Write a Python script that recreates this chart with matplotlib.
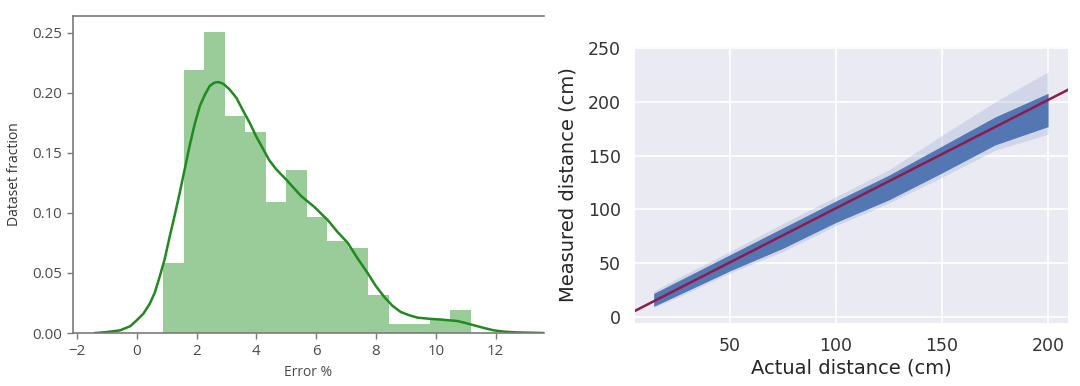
import matplotlib
matplotlib.use("Agg")
import matplotlib.pyplot as plt
import numpy as np

# Left panel: histogram of error (density) with a KDE curve.
bin_edges = [0.88, 1.57, 2.25, 2.94, 3.63, 4.31, 5.00, 5.69, 6.37, 7.06,
             7.75, 8.43, 9.12, 9.81, 10.49, 11.18]
bin_density = [0.058, 0.219, 0.251, 0.181, 0.167, 0.109, 0.136, 0.097, 0.077,
               0.071, 0.032, 0.0073, 0.0073, 0.0106, 0.019]

kde_x = [-1.39, -1.0, -0.56, -0.22, 0.0, 0.22, 0.44, 0.61, 0.77, 0.94, 1.1,
         1.27, 1.44, 1.61, 1.77, 1.94, 2.11, 2.28, 2.44, 2.6, 2.74, 2.9, 3.1,
         3.33, 3.54, 3.78, 3.99, 4.21, 4.43, 4.66, 4.99, 5.5, 5.94, 6.39,
         6.72, 7.06, 7.39, 7.72, 8.0, 8.28, 8.56, 8.83, 9.11, 9.39, 9.8,
         10.17, 10.72, 11.0, 11.28, 11.61, 11.94, 12.3, 12.72, 13.6]
kde_y = [0.0, 0.0008, 0.0022, 0.0056, 0.0106, 0.016, 0.0245, 0.034, 0.047,
         0.062, 0.080, 0.098, 0.117, 0.137, 0.156, 0.174, 0.189, 0.1985,
         0.2057, 0.2085, 0.209, 0.2075, 0.203, 0.196, 0.186, 0.175, 0.164,
         0.154, 0.144, 0.1365, 0.128, 0.114, 0.105, 0.094, 0.084, 0.075,
         0.062, 0.050, 0.039, 0.030, 0.0225, 0.0175, 0.0148, 0.0128, 0.0118,
         0.0112, 0.010, 0.0083, 0.0064, 0.0042, 0.0022, 0.0011, 0.0005, 0.0]

# Right panel: measured vs actual distance, the point cloud as envelopes.
band_x = [14, 25, 50, 75, 100, 125, 150, 175, 200]
core_low = [10, 20, 43, 64, 88, 109, 134, 160, 177]
core_high = [22, 33, 58, 83, 108, 132, 159, 186, 208]
halo_low = [9, 18, 41, 61, 85, 106, 130, 155, 170]
halo_high = [24, 36, 61, 87, 112, 137, 169, 200, 228]
fit_slope = 1.006
fit_intercept = 0.6

fig = plt.figure(figsize=(10.8, 3.86), dpi=100)

# ---- left: distribution of the error ----
ax1 = fig.add_axes([0.0676, 0.1373, 0.4361, 0.8212])
left_font = ["Open Sans", "DejaVu Sans"]
widths = np.diff(bin_edges)
ax1.bar(bin_edges[:-1], bin_density, width=widths, align="edge",
        color="g", alpha=0.4, linewidth=0)
ax1.plot(kde_x, kde_y, color="#1f8a1f", lw=1.8)
ax1.set_xlim(-2.13, 13.62)
ax1.set_ylim(0, 0.264)
ax1.set_xticks([-2, 0, 2, 4, 6, 8, 10, 12])
ax1.set_xticklabels(["\u22122", "0", "2", "4", "6", "8", "10", "12"])
ax1.set_yticks([0.0, 0.05, 0.10, 0.15, 0.20, 0.25])
ax1.set_yticklabels(["0.00", "0.05", "0.10", "0.15", "0.20", "0.25"])
for side in ["left", "top", "bottom"]:
    ax1.spines[side].set_color("#7a7a7a")
    ax1.spines[side].set_linewidth(1.2)
ax1.spines["right"].set_visible(False)
ax1.tick_params(direction="out", length=4, width=1, color="#7a7a7a",
                labelcolor="#4a4a4a", labelsize=10.8, pad=4)
for lab in ax1.get_xticklabels() + ax1.get_yticklabels():
    lab.set_family(left_font)
ax1.set_xlabel("Error %", fontsize=10, color="#4a4a4a", family=left_font)
ax1.set_ylabel("Dataset fraction", fontsize=10, color="#333333",
               family=left_font)
ax1.xaxis.set_label_coords(0.5, -0.1)
ax1.yaxis.set_label_coords(-0.108, 0.5)

# ---- right: measured vs actual distance ----
ax2 = fig.add_axes([0.588, 0.1632, 0.4009, 0.715])
ax2.set_facecolor("#EAEAF2")
ax2.grid(True, color="white", lw=1.2)
ax2.set_axisbelow(True)
for side in ax2.spines:
    ax2.spines[side].set_visible(False)
ax2.fill_between(band_x, halo_low, halo_high, color="#4C72B0", alpha=0.16,
                 linewidth=0)
ax2.fill_between(band_x, core_low, core_high, color="#4C72B0", alpha=0.95,
                 linewidth=0)
ax2.set_xlim(5.2, 209.4)
ax2.set_ylim(-5.5, 251)
xs = np.array(ax2.get_xlim())
ax2.plot(xs, fit_slope * xs + fit_intercept, color="#8E1B4E", lw=1.8)
ax2.set_xticks([50, 100, 150, 200])
ax2.set_yticks([0, 50, 100, 150, 200, 250])
ax2.tick_params(length=0, labelsize=12.5, labelcolor="#333333", pad=10)
ax2.set_xlabel("Actual distance (cm)", fontsize=14, color="#262626")
ax2.set_ylabel("Measured distance (cm)", fontsize=14, color="#262626")
ax2.xaxis.set_label_coords(0.5, -0.13)
ax2.yaxis.set_label_coords(-0.132, 0.5)

fig.savefig("out.png", dpi=100)
